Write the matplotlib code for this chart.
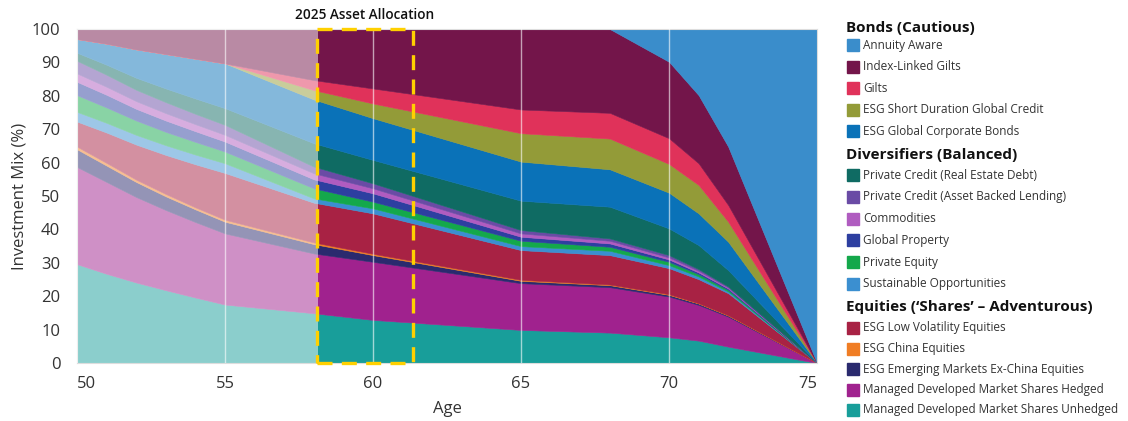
import matplotlib
matplotlib.use("Agg")
import matplotlib.pyplot as plt
from matplotlib.patches import Rectangle

plt.rcParams['font.family'] = ['Open Sans', 'DejaVu Sans']

ages = [50, 51, 52, 53, 54, 55, 58, 60, 65, 68, 70, 71, 72, 75]

# % of the fund in each asset, bottom of stack first
unhedged = [29.6, 26.7, 24.1, 21.8, 19.6, 17.5, 14.9, 12.9, 9.9, 9.1, 7.7, 6.7, 4.9, 0]
hedged = [29.1, 27.5, 25.6, 24.0, 22.6, 21.3, 17.9, 17.4, 14.0, 13.6, 12.2, 10.7, 9.0, 0]
em_ex_china = [5.3, 4.9, 4.5, 4.1, 3.8, 3.5, 2.8, 2.0, 0.7, 0.6, 0.5, 0.4, 0.3, 0]
china = [0.8, 0.8, 0.7, 0.7, 0.6, 0.6, 0.5, 0.4, 0.3, 0.2, 0.2, 0.1, 0.1, 0]
low_vol = [7.5, 9.1, 10.5, 11.7, 12.9, 14.0, 11.9, 12.1, 8.9, 8.8, 7.8, 7.2, 6.6, 0]
sustainable = [2.9, 2.9, 2.9, 2.9, 2.9, 2.9, 1.3, 1.5, 1.2, 1.3, 0.9, 0.8, 0.5, 0]
private_equity = [5.0, 4.6, 4.3, 4.0, 3.8, 3.5, 3.0, 2.0, 1.6, 1.2, 1.0, 0.7, 0.5, 0]
global_property = [4.0, 3.8, 3.5, 3.4, 3.2, 3.0, 2.7, 2.5, 1.2, 1.0, 0.7, 0.5, 0.4, 0]
commodities = [2.5, 2.4, 2.3, 2.2, 2.1, 2.0, 1.8, 1.5, 1.0, 0.8, 0.6, 0.5, 0.3, 0]
asset_backed = [3.8, 3.6, 3.4, 3.3, 3.1, 3.0, 2.0, 1.5, 1.0, 0.7, 0.7, 0.5, 0.3, 0]
real_estate_debt = [2.4, 3.0, 3.6, 4.1, 4.6, 5.0, 7.0, 7.0, 8.8, 9.5, 8.0, 7.2, 4.9, 0]
corp_bonds = [4.1, 6.3, 8.5, 10.3, 11.9, 13.4, 13.1, 12.5, 11.7, 11.2, 10.7, 9.5, 8.5, 0]
short_duration = [0, 0, 0, 0, 0, 0, 2.8, 4.4, 8.5, 9.2, 8.6, 8.5, 6.0, 0]
gilts = [0, 0, 0, 0, 0, 0, 3.0, 4.5, 7.1, 7.7, 7.7, 6.5, 5.0, 0]
index_linked = [3.0, 4.4, 6.1, 7.5, 8.9, 10.3, 15.3, 17.8, 24.1, 25.1, 22.9, 20.4, 17.5, 0]
annuity_aware = [0, 0, 0, 0, 0, 0, 0, 0, 0, 0, 9.8, 19.8, 35.2, 100]

series = [unhedged, hedged, em_ex_china, china, low_vol, sustainable,
          private_equity, global_property, commodities, asset_backed,
          real_estate_debt, corp_bonds, short_duration, gilts,
          index_linked, annuity_aware]
names = ['Managed Developed Market Shares Unhedged', 'Managed Developed Market Shares Hedged',
         'ESG Emerging Markets Ex-China Equities', 'ESG China Equities',
         'ESG Low Volatility Equities', 'Sustainable Opportunities', 'Private Equity',
         'Global Property', 'Commodities', 'Private Credit (Asset Backed Lending)',
         'Private Credit (Real Estate Debt)', 'ESG Global Corporate Bonds',
         'ESG Short Duration Global Credit', 'Gilts', 'Index-Linked Gilts',
         'Annuity Aware']
colors = ['#189E9A', '#A0228E', '#2A2A6E', '#F07D24', '#A82244', '#3B8FD0',
          '#14A84B', '#2D3FA0', '#B05CC0', '#6A4BA5',
          '#0F6B63', '#0A72B8', '#939B38', '#E0325A',
          '#73154A', '#3A8DCB']

# key groups, top to bottom
groups = [
    ('Bonds (Cautious)', ['Annuity Aware', 'Index-Linked Gilts', 'Gilts',
                          'ESG Short Duration Global Credit', 'ESG Global Corporate Bonds']),
    ('Diversifiers (Balanced)', ['Private Credit (Real Estate Debt)',
                                 'Private Credit (Asset Backed Lending)', 'Commodities',
                                 'Global Property', 'Private Equity', 'Sustainable Opportunities']),
    ('Equities (\u2018Shares\u2019 \u2013 Adventurous)', ['ESG Low Volatility Equities',
                                                         'ESG China Equities',
                                                         'ESG Emerging Markets Ex-China Equities',
                                                         'Managed Developed Market Shares Hedged',
                                                         'Managed Developed Market Shares Unhedged']),
]
# pixel rows of the key: header, first entry, step
key_rows = [(28, 45, 21.6), (155, 175, 21.8), (307, 328, 20.5)]

W, H = 1128, 421
fig = plt.figure(figsize=(W / 100, H / 100), dpi=100)
ax = fig.add_axes([77 / W, 1 - 363 / H, (817 - 77) / W, (363 - 29) / H])

polys = ax.stackplot(ages, series, colors=colors)
for p, c in zip(polys, colors):
    p.set_edgecolor(c)
    p.set_linewidth(0.4)

# past allocations are washed out
ax.axvspan(50, 58.15, color='white', alpha=0.5, lw=0, zorder=3)

for a in [55, 60, 65, 70]:
    ax.axvline(a, color='white', alpha=0.6, lw=1, zorder=4)

box = Rectangle((58.1, 0), 3.25, 100, fill=False, edgecolor='#FFD000',
                lw=2.4, linestyle=(0, (4.5, 2.8)), zorder=5, clip_on=False)
ax.add_patch(box)
ax.text(59.72, 104.3, '2025 Asset Allocation', ha='center', va='center',
        fontsize=9.8, fontweight='semibold', color='#111111')

ax.set_xlim(50, 75)
ax.set_ylim(0, 100)
ax.set_xticks([50, 55, 60, 65, 70, 75])
ax.set_yticks(range(0, 101, 10))
ax.tick_params(length=0, labelsize=12, colors='#333333')
ax.tick_params(axis='x', pad=9)
ax.tick_params(axis='y', pad=12)
xl = ax.get_xticklabels()
xl[0].set_ha('left')
xl[-1].set_ha('right')
ax.set_xlabel('Age', fontsize=12, color='#333333', labelpad=7)
ax.set_ylabel('Investment Mix (%)', fontsize=12, color='#333333', labelpad=3)
for s in ax.spines.values():
    s.set_color('#DDDDDD')
    s.set_linewidth(0.8)

# hand drawn key
col_of = dict(zip(names, colors))
for (head, items), (hy, y0, step) in zip(groups, key_rows):
    fig.text(846 / W, 1 - hy / H, head, ha='left', va='center', fontsize=11,
             fontweight='bold', color='#111111')
    for i, n in enumerate(items):
        y = y0 + i * step
        fig.patches.append(Rectangle((847 / W, 1 - (y + 6) / H), 12 / W, 12 / H,
                                     transform=fig.transFigure, color=col_of[n]))
        fig.text(863 / W, 1 - y / H, n, ha='left', va='center', fontsize=8.5,
                 color='#333333')

fig.savefig('out.png', dpi=100)
